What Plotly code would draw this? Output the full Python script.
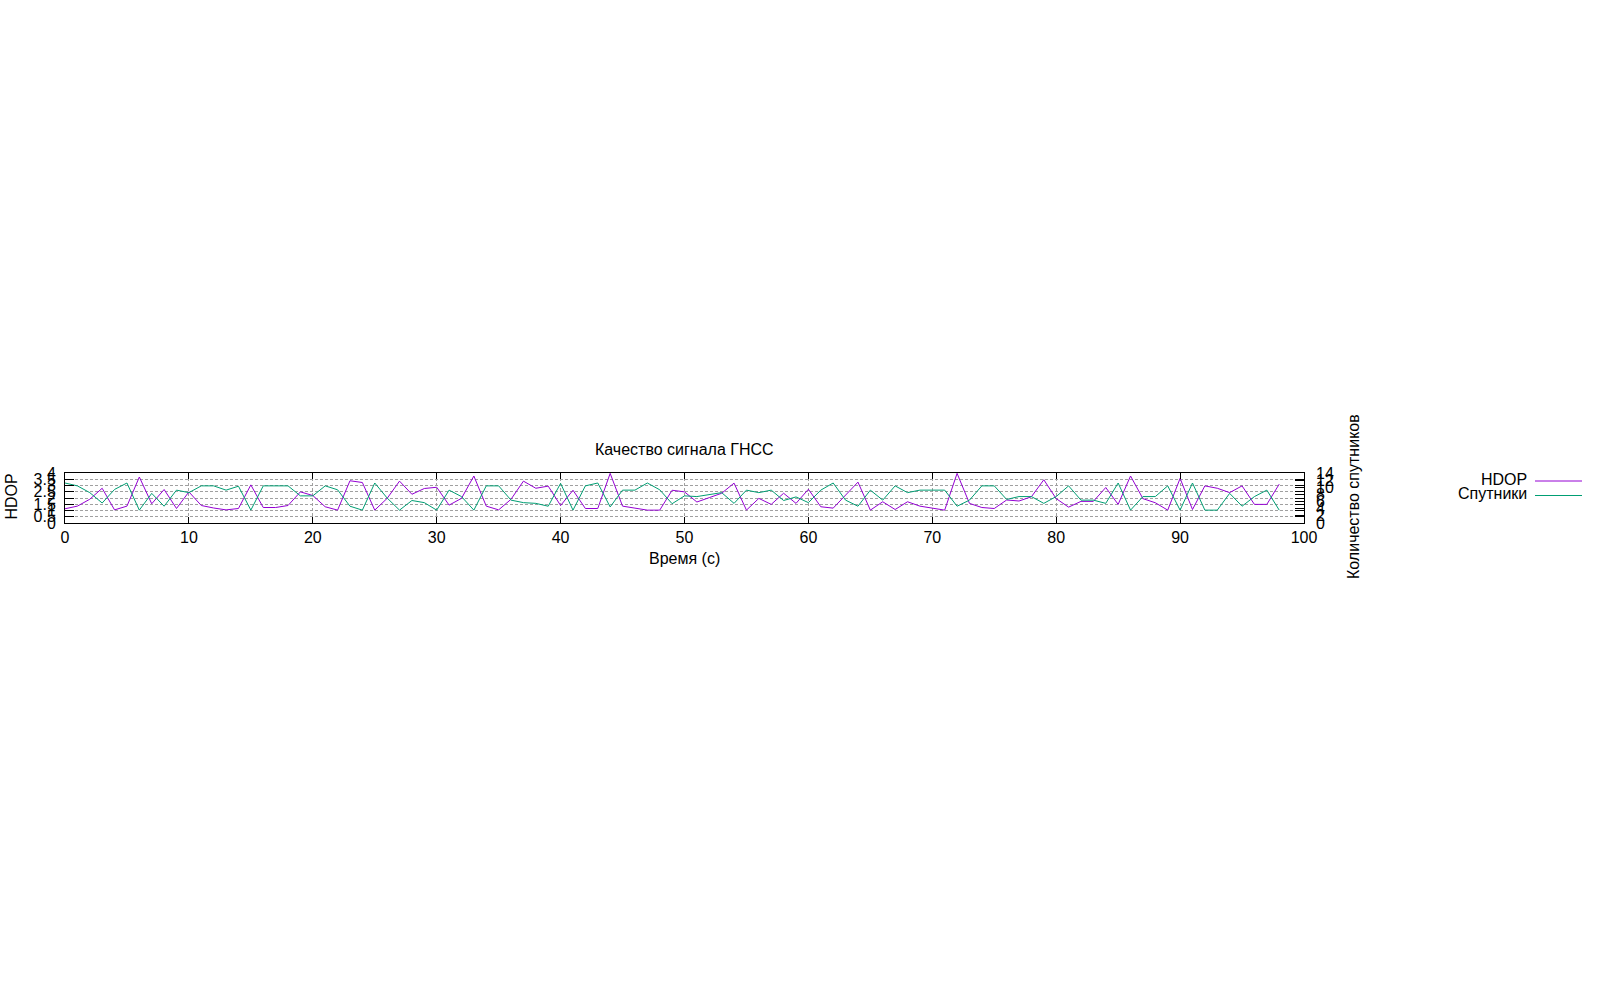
import plotly.graph_objects as go

# ---- data ----
time_s = list(range(0, 99))
hdop = [1.14, 1.35, 1.9, 2.78, 1.05, 1.35, 3.68, 1.54, 2.68, 1.16,
        2.49, 1.4, 1.2, 1.05, 1.16, 3.05, 1.24, 1.24, 1.4, 2.49,
        2.2, 1.3, 1.03, 3.38, 3.24, 1.03, 1.97, 3.35, 2.3, 2.76,
        2.86, 1.43, 1.97, 3.76, 1.35, 1.05, 1.9, 3.35, 2.78, 2.95,
        1.4, 2.62, 1.16, 1.16, 3.97, 1.35, 1.19, 1.03, 1.03, 2.62,
        2.49, 1.68, 2.03, 2.38, 3.19, 1.03, 1.97, 1.49, 2.38, 1.57,
        2.7, 1.3, 1.19, 2.2, 3.27, 1.03, 1.7, 1.08, 1.7, 1.35,
        1.19, 1.03, 3.97, 1.57, 1.24, 1.16, 1.84, 1.76, 2.1, 3.46,
        1.95, 1.27, 1.73, 1.73, 2.84, 1.49, 3.76, 1.95, 1.62, 1.03,
        3.57, 1.08, 2.97, 2.78, 2.43, 2.97, 1.49, 1.49, 3.11]
sats = [11.2, 10.4, 8.5, 5.6, 9.4, 11.2, 3.6, 8.3, 4.7, 9.2,
        8.5, 10.4, 10.4, 9.2, 10.3, 3.6, 10.4, 10.4, 10.4, 7.6,
        7.6, 10.4, 9.3, 4.7, 3.6, 11.2, 7.0, 3.6, 6.3, 5.7,
        3.6, 9.2, 7.4, 3.6, 10.4, 10.4, 6.4, 5.7, 5.5, 4.7,
        11.1, 3.6, 10.4, 11.2, 4.5, 9.2, 9.2, 11.2, 9.3, 5.4,
        7.6, 7.4, 7.9, 8.5, 5.5, 9.2, 8.5, 9.2, 6.3, 7.3,
        5.7, 9.2, 11.2, 6.4, 4.7, 9.2, 6.4, 10.4, 8.5, 9.2,
        9.2, 9.2, 4.7, 6.4, 10.4, 10.4, 6.6, 7.4, 7.4, 5.5,
        7.4, 10.4, 6.4, 6.4, 5.5, 11.2, 3.6, 7.4, 7.4, 10.4,
        3.6, 11.2, 3.6, 3.6, 8.3, 4.7, 7.4, 9.2, 3.6]

series_names = ["HDOP", "Спутники"]
series_colors = ["#9400D3", "#009E73"]
title_text = "Качество сигнала ГНСС"
x_title = "Время (с)"
y_title = "HDOP"
y2_title = "Количество спутников"

# ---- layout geometry (pixels) ----
W, H = 1600, 1000
L, R, T, B = 65, 1304, 473, 523
pw, ph = R - L, B - T
FONT = "Liberation Sans"
FS = 16


def px(x):
    return (x - L) / pw


def py(y):
    return (B - y) / ph


fig = go.Figure()
fig.add_trace(go.Scatter(x=time_s, y=hdop, mode="lines", name=series_names[0],
                         line=dict(color=series_colors[0], width=1), yaxis="y"))
fig.add_trace(go.Scatter(x=time_s, y=sats, mode="lines", name=series_names[1],
                         line=dict(color=series_colors[1], width=1), yaxis="y2"))

grid = dict(showgrid=True, gridcolor="#a0a0a0", gridwidth=1, griddash="3px,2px")
fig.update_layout(
    width=W, height=H, autosize=False,
    margin=dict(l=L, r=W - R, t=T, b=H - B, pad=0),
    paper_bgcolor="white", plot_bgcolor="white",
    showlegend=False,
    font=dict(family=FONT, size=FS, color="black"),
    xaxis=dict(range=[0, 100], dtick=10, tick0=0, ticks="inside", ticklen=6,
               tickcolor="black", showline=True, linecolor="black", linewidth=1,
               mirror="ticks", zeroline=False, ticklabelstandoff=0,
               tickfont=dict(family=FONT, size=FS), **grid),
    yaxis=dict(range=[0, 4], dtick=0.5, tick0=0, ticks="inside", ticklen=9,
               tickcolor="black", showline=True, linecolor="black", linewidth=1,
               mirror="ticks", zeroline=False, ticklabelstandoff=5,
               tickfont=dict(family=FONT, size=FS), **grid),
    yaxis2=dict(range=[0, 14], dtick=2, tick0=0, overlaying="y", side="right",
                ticks="inside", ticklen=9, tickcolor="black", showline=False,
                showgrid=False, zeroline=False, ticklabelstandoff=11,
                tickfont=dict(family=FONT, size=FS)),
)

ann = [
    dict(text=title_text, x=px(684.5), y=py(449)),
    dict(text=x_title, x=px(684.5), y=py(558)),
    dict(text=y_title, x=px(10.5), y=py(497), textangle=-90),
    dict(text=y2_title, x=px(1353), y=py(497), textangle=-90),
]
for a in ann:
    fig.add_annotation(xref="paper", yref="paper", showarrow=False,
                       xanchor="center", yanchor="middle",
                       font=dict(family=FONT, size=FS, color="black"), **a)

# legend (gnuplot style: text right-aligned, sample line to the right)
leg_y = [479, 493.5]
for name, col, yy in zip(series_names, series_colors, leg_y):
    fig.add_annotation(xref="paper", yref="paper", showarrow=False,
                       x=px(1529), y=py(yy), xanchor="right", yanchor="middle",
                       text=name, font=dict(family=FONT, size=FS, color="black"))
    fig.add_shape(type="line", xref="paper", yref="paper",
                  x0=px(1535), x1=px(1582), y0=py(yy + 2), y1=py(yy + 2),
                  line=dict(color=col, width=1))

fig.write_html("out.html")
